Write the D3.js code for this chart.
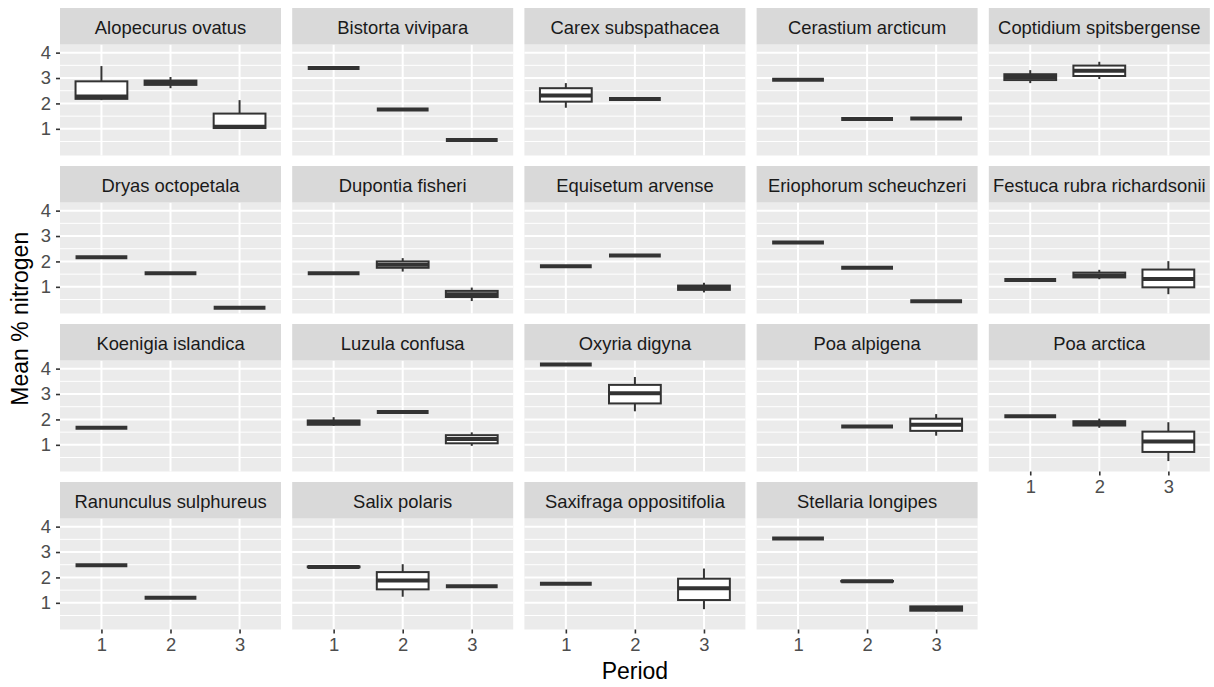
<!DOCTYPE html>
<html>
<head>
<meta charset="utf-8">
<script src="https://cdn.jsdelivr.net/npm/d3@7"></script>
<style>
  body { margin: 0; background: #ffffff; }
  svg { display: block; }
  text { font-family: "Liberation Sans", Arial, sans-serif; }
</style>
</head>
<body>
<svg id="chart" width="1214" height="687"></svg>
<script>
// Facet labels (one panel per species)
const speciesNames = [
  "Alopecurus ovatus", "Bistorta vivipara", "Carex subspathacea", "Cerastium arcticum",
  "Coptidium spitsbergense", "Dryas octopetala", "Dupontia fisheri", "Equisetum arvense",
  "Eriophorum scheuchzeri", "Festuca rubra richardsonii", "Koenigia islandica", "Luzula confusa",
  "Oxyria digyna", "Poa alpigena", "Poa arctica", "Ranunculus sulphureus", "Salix polaris",
  "Saxifraga oppositifolia", "Stellaria longipes"
];

const periods = [1, 2, 3];
const yTicks = [1, 2, 3, 4];
const yMinorTicks = [0.5, 1.5, 2.5, 3.5];
const yDomain = [-0.05, 4.32];

// One entry per box: species index and period
const boxSpecies = [0,0,0, 1,1,1, 2,2, 3,3,3, 4,4, 5,5,5, 6,6,6, 7,7,7, 8,8,8, 9,9,9,
                    10, 11,11,11, 12,12, 13,13, 14,14,14, 15,15, 16,16,16, 17,17, 18,18,18];
const boxPeriod  = [1,2,3, 1,2,3, 1,2, 1,2,3, 1,2, 1,2,3, 1,2,3, 1,2,3, 1,2,3, 1,2,3,
                    1, 1,2,3, 1,2, 2,3, 1,2,3, 1,2, 1,2,3, 1,3, 1,2,3];

// Five-number summaries of mean % nitrogen (whisker low, Q1, median, Q3, whisker high)
const boxLow    = [2.13,2.60,1.00, 3.39,1.76,0.56, 1.83,2.17, 2.93,1.39,1.41, 2.80,2.96, 2.16,1.53,0.18,
                   1.53,1.60,0.44, 1.81,2.23,0.78, 2.75,1.75,0.43, 1.27,1.30,0.71, 1.67, 1.75,2.29,0.96,
                   4.16,2.32, 1.72,1.36, 2.13,1.67,0.36, 2.48,1.20, 2.38,1.24,1.65, 1.75,0.75, 3.53,1.85,0.66];
const boxQ1     = [2.18,2.73,1.03, 3.39,1.76,0.56, 2.07,2.17, 2.93,1.39,1.41, 2.92,3.08, 2.16,1.53,0.18,
                   1.53,1.75,0.60, 1.81,2.23,0.88, 2.75,1.75,0.43, 1.27,1.37,0.98, 1.67, 1.79,2.29,1.06,
                   4.16,2.63, 1.72,1.55, 2.13,1.76,0.72, 2.48,1.20, 2.40,1.53,1.65, 1.75,1.11, 3.53,1.84,0.69];
const boxMedian = [2.27,2.80,1.08, 3.39,1.76,0.56, 2.31,2.17, 2.93,1.39,1.41, 3.04,3.29, 2.16,1.53,0.18,
                   1.53,1.87,0.71, 1.81,2.23,0.96, 2.75,1.75,0.43, 1.27,1.45,1.31, 1.67, 1.87,2.29,1.23,
                   4.16,3.03, 1.72,1.79, 2.13,1.84,1.13, 2.48,1.20, 2.41,1.88,1.65, 1.75,1.57, 3.53,1.85,0.77];
const boxQ3     = [2.87,2.90,1.60, 3.39,1.76,0.56, 2.60,2.17, 2.93,1.39,1.41, 3.15,3.49, 2.16,1.53,0.18,
                   1.53,2.00,0.84, 1.81,2.23,1.05, 2.75,1.75,0.43, 1.27,1.56,1.68, 1.67, 1.96,2.29,1.38,
                   4.16,3.36, 1.72,2.03, 2.13,1.93,1.52, 2.48,1.20, 2.43,2.21,1.65, 1.75,1.95, 3.53,1.86,0.86];
const boxHigh   = [3.47,3.04,2.13, 3.39,1.76,0.56, 2.80,2.17, 2.93,1.39,1.41, 3.31,3.64, 2.16,1.53,0.18,
                   1.53,2.13,0.97, 1.81,2.23,1.16, 2.75,1.75,0.43, 1.27,1.67,2.01, 1.67, 2.09,2.29,1.49,
                   4.16,3.67, 1.72,2.21, 2.13,2.03,1.89, 2.48,1.20, 2.46,2.52,1.65, 1.75,2.35, 3.53,1.87,0.88];

const boxes = boxSpecies.map((s, i) => ({
  species: s, period: boxPeriod[i],
  low: boxLow[i], q1: boxQ1[i], median: boxMedian[i], q3: boxQ3[i], high: boxHigh[i]
}));

// Facet grid layout
const nCols = 5;
const panelLeft = 60, colStep = 232.2, panelW = 221;
const gridTop = 8, rowStep = 158, stripH = 36.5, panelH = 111;
const nRows = Math.ceil(speciesNames.length / nCols);

const x = d3.scaleLinear().domain([0.4, 3.6]).range([0, panelW]);
const y = d3.scaleLinear().domain(yDomain).range([panelH, 0]);
const boxHalf = x(1.375) - x(1);

const svg = d3.select("#chart");
const ink = "#333333";
const outlineW = 2, medianW = 4;

speciesNames.forEach((name, si) => {
  const col = si % nCols, row = Math.floor(si / nCols);
  const px = panelLeft + col * colStep;
  const py = gridTop + row * rowStep + stripH;
  const g = svg.append("g").attr("transform", `translate(${px},${py})`);

  g.append("rect").attr("width", panelW).attr("height", panelH).attr("fill", "#EBEBEB");

  g.selectAll("line.minor").data(yMinorTicks).join("line")
    .attr("x1", 0).attr("x2", panelW)
    .attr("y1", d => y(d)).attr("y2", d => y(d))
    .attr("stroke", "#ffffff").attr("stroke-width", 1);
  g.selectAll("line.majorY").data(yTicks).join("line")
    .attr("x1", 0).attr("x2", panelW)
    .attr("y1", d => y(d)).attr("y2", d => y(d))
    .attr("stroke", "#ffffff").attr("stroke-width", 2);
  g.selectAll("line.majorX").data(periods).join("line")
    .attr("y1", 0).attr("y2", panelH)
    .attr("x1", d => x(d)).attr("x2", d => x(d))
    .attr("stroke", "#ffffff").attr("stroke-width", 2);

  const bx = g.selectAll("g.box").data(boxes.filter(b => b.species === si)).join("g");
  bx.append("line")
    .attr("x1", d => x(d.period)).attr("x2", d => x(d.period))
    .attr("y1", d => y(d.high)).attr("y2", d => y(d.q3))
    .attr("stroke", ink).attr("stroke-width", outlineW);
  bx.append("line")
    .attr("x1", d => x(d.period)).attr("x2", d => x(d.period))
    .attr("y1", d => y(d.q1)).attr("y2", d => y(d.low))
    .attr("stroke", ink).attr("stroke-width", outlineW);
  bx.append("rect")
    .attr("x", d => x(d.period) - boxHalf).attr("width", boxHalf * 2)
    .attr("y", d => y(d.q3)).attr("height", d => y(d.q1) - y(d.q3))
    .attr("fill", "#ffffff").attr("stroke", ink).attr("stroke-width", outlineW);
  bx.append("line")
    .attr("x1", d => x(d.period) - boxHalf).attr("x2", d => x(d.period) + boxHalf)
    .attr("y1", d => y(d.median)).attr("y2", d => y(d.median))
    .attr("stroke", ink).attr("stroke-width", medianW);

  // strip
  g.append("rect").attr("y", -stripH).attr("width", panelW).attr("height", stripH).attr("fill", "#D9D9D9");
  g.append("text").attr("x", panelW / 2).attr("y", -stripH + 26)
    .attr("text-anchor", "middle").attr("font-size", 18.4).attr("fill", "#1A1A1A").text(name);

  // y axis on the first column
  if (col === 0) {
    const ax = g.append("g").call(d3.axisLeft(y).tickValues(yTicks).tickSize(4).tickPadding(5).tickFormat(d3.format("d")));
    ax.select(".domain").remove();
    ax.selectAll("line").attr("stroke", ink).attr("stroke-width", 1.6);
    ax.selectAll("text").attr("font-size", 18.4).attr("fill", "#4D4D4D")
      .attr("font-family", "'Liberation Sans', Arial, sans-serif");
  }
  // x axis on the lowest panel in each column
  const lastInCol = si + nCols >= speciesNames.length;
  if (lastInCol) {
    const ax = g.append("g").attr("transform", `translate(0,${panelH})`)
      .call(d3.axisBottom(x).tickValues(periods).tickSize(4).tickPadding(4).tickFormat(d3.format("d")));
    ax.select(".domain").remove();
    ax.selectAll("line").attr("stroke", ink).attr("stroke-width", 1.6);
    ax.selectAll("text").attr("font-size", 18.4).attr("fill", "#4D4D4D")
      .attr("font-family", "'Liberation Sans', Arial, sans-serif");
  }
});

// axis titles
const gridBottom = gridTop + (nRows - 1) * rowStep + stripH + panelH;
const gridRight = panelLeft + (nCols - 1) * colStep + panelW;
svg.append("text")
  .attr("transform", `translate(28,${(gridTop + gridBottom) / 2}) rotate(-90)`)
  .attr("text-anchor", "middle").attr("font-size", 23).attr("fill", "#000000")
  .text("Mean % nitrogen");
svg.append("text")
  .attr("x", (panelLeft + gridRight) / 2).attr("y", 679)
  .attr("text-anchor", "middle").attr("font-size", 23).attr("fill", "#000000")
  .text("Period");
</script>
</body>
</html>
